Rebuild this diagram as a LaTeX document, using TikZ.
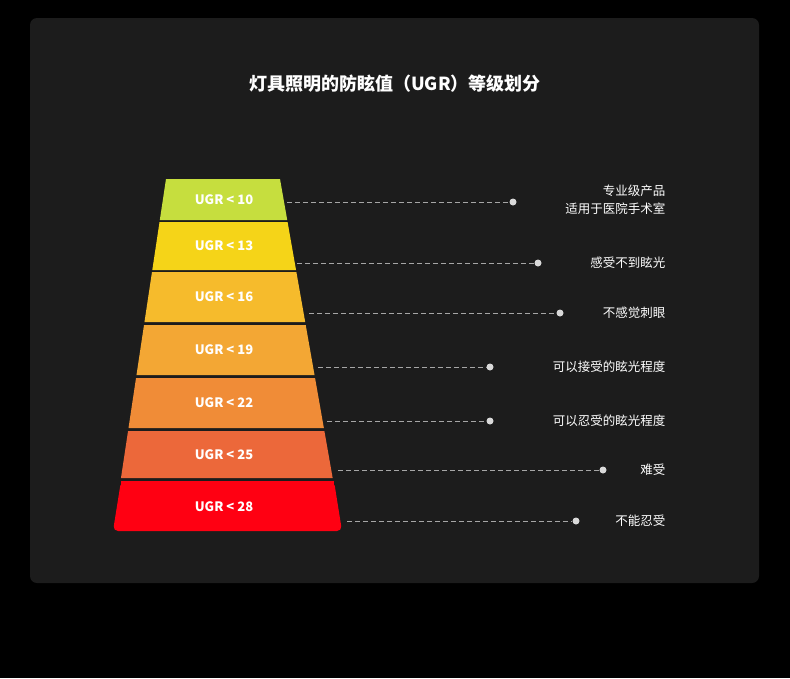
\documentclass[tikz,border=0pt]{standalone}
\usepackage{fontspec}
\setmainfont{Noto Sans CJK SC}
\usetikzlibrary{positioning}
\definecolor{panel}{HTML}{1C1C1C}
\definecolor{bandA}{HTML}{C6DE3E}
\definecolor{bandB}{HTML}{F5D418}
\definecolor{bandC}{HTML}{F6BB2C}
\definecolor{bandD}{HTML}{F3A734}
\definecolor{bandE}{HTML}{F08C37}
\definecolor{bandF}{HTML}{EC683A}
\definecolor{bandG}{HTML}{FF0012}
\tikzset{
  ugr/.style={text=white,font=\bfseries\fontsize{13}{15}\selectfont},
  lvl/.style={text=white,anchor=east,align=right,font=\fontsize{12.5}{18}\selectfont},
  lead/.style={densely dashed,dash pattern=on 5pt off 3pt,gray!70,line width=0.8pt},
  dot/.style={circle,fill=gray!30,inner sep=0pt,minimum size=7pt}
}
\begin{document}
\begin{tikzpicture}[x=1pt,y=-1pt]
  \useasboundingbox (0,0) rectangle (790,678);
  \fill[black] (0,0) rectangle (790,678);
  \fill[panel,rounded corners=7pt] (30,18) rectangle (759,583);
  \node[text=white,font=\bfseries\fontsize{18}{22}\selectfont] (title) at (395,84) {灯具照明的防眩值（UGR）等级划分};

  % Stufen
  \foreach \t/\b/\col/\val/\ly/\lx/\dx/\name in {179/220/bandA/10/202/287/513/a,222/270/bandB/13/263/297/538/b,272/322/bandC/16/313/309/560/c,325/375/bandD/19/367/318/490/d,378/428/bandE/22/421/327/490/e,431/478/bandF/25/470/338/603/f}{
    \pgfmathsetmacro\lt{166-0.15057*(\t-179)}
    \pgfmathsetmacro\lb{166-0.15057*(\b-179)}
    \pgfmathsetmacro\rt{280+0.17614*(\t-179)}
    \pgfmathsetmacro\rb{280+0.17614*(\b-179)}
    \pgfmathsetmacro\my{(\t+\b)/2}
    \fill[\col] (\lt,\t) -- (\rt,\t) -- (\rb,\b) -- (\lb,\b) -- cycle;
    \node[ugr] (u\name) at (224,\my) {UGR < \val};
    \coordinate (s\name) at (\lx,\ly);
    \node[dot] (d\name) at (\dx,\ly) {};
    \draw[lead] (s\name) -- (d\name);
  }
  \fill[bandG,rounded corners=5pt] (121,481) -- (334,481) -- (342,531) -- (113,531) -- cycle;
  \fill[bandG] (121,481) rectangle (334,490);
  \node[ugr] (ug) at (224,507) {UGR < 28};
  \coordinate (sg) at (347,521);
  \node[dot] (dg) at (576,521) {};
  \draw[lead] (sg) -- (dg);

  % Beschriftungen
  \node[lvl] (ta) at (669,200) {专业级产品\\适用于医院手术室};
  \node[lvl] (tb) at (669,263) {感受不到眩光};
  \node[lvl] (tc) at (669,313) {不感觉刺眼};
  \node[lvl] (td) at (669,367) {可以接受的眩光程度};
  \node[lvl] (te) at (669,421) {可以忍受的眩光程度};
  \node[lvl] (tf) at (669,470) {难受};
  \node[lvl] (tg) at (669,521) {不能忍受};
\end{tikzpicture}
\end{document}
